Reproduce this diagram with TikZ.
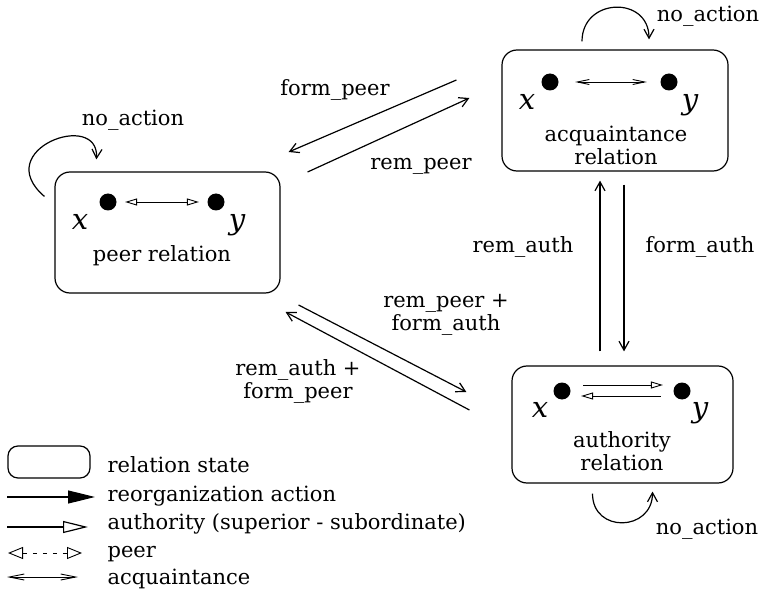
\documentclass[tikz,border=0pt]{standalone}
\usepackage{fontspec}
\setmainfont{DejaVu Serif}
\usetikzlibrary{arrows.meta, positioning}

\begin{document}
\begin{tikzpicture}[x=1pt, y=-1pt, line width=1.2pt,
    font=\fontsize{21}{23}\selectfont,
    state/.style={draw, rounded corners=15pt, minimum width=225pt, minimum height=121pt},
    agent/.style={circle, fill, inner sep=0pt, minimum size=17pt},
    var/.style={font=\fontsize{29}{30}\selectfont\itshape, inner sep=0pt},
    act/.style={-{Straight Barb[length=9pt, width=10pt]}},
    authlink/.style={line width=0.9pt, -{Triangle[open, length=12pt, width=7pt]}},
    peerlink/.style={line width=0.9pt, {Triangle[open, length=12pt, width=7pt]}-{Triangle[open, length=12pt, width=7pt]}},
    acqlink/.style={line width=0.9pt, {Straight Barb[length=12pt, width=5pt]}-{Straight Barb[length=12pt, width=5pt]}},
    legtext/.style={anchor=base west, inner sep=0pt}]
	\useasboundingbox (0,0) rectangle (764,591);

	% relation states
	\node[state] (PeerRel) at (167.5,232.5) {};
	\node[state, minimum width=226pt] (AcqRel) at (615,110.5) {};
	\node[state, minimum width=221pt, minimum height=117pt] (AuthRel) at (622.5,424.5) {};

	\node (PeerTxt) at (162,256) {peer relation};
	\node[align=center] (AcqTxt) at (616,145) {acquaintance\\relation};
	\node[align=center] (AuthTxt) at (622,451) {authority\\relation};

	% agents
	\node[agent] (PeerX) at (108,202) {};
	\node[agent] (PeerY) at (216,202) {};
	\node[var] (PeerXl) at (80,222) {x};
	\node[var] (PeerYl) at (237,225) {y};
	\draw[peerlink, shorten <=8pt, shorten >=8pt] (PeerX) -- (PeerY);

	\node[agent] (AcqX) at (550,82) {};
	\node[agent] (AcqY) at (669,82) {};
	\node[var] (AcqXl) at (527,102) {x};
	\node[var] (AcqYl) at (690,105) {y};
	\draw[acqlink, shorten <=16pt, shorten >=13pt] (AcqX) -- (AcqY);

	\node[agent] (AuthX) at (562,391) {};
	\node[agent] (AuthY) at (682,391) {};
	\node[var] (AuthXl) at (540,410) {x};
	\node[var] (AuthYl) at (700,413) {y};
	\draw[authlink, shorten <=12pt, shorten >=10pt] ([yshift=6pt]AuthX.east) -- ([yshift=6pt]AuthY.west);
	\draw[authlink, shorten <=12pt, shorten >=10pt] ([yshift=-5pt]AuthY.west) -- ([yshift=-5pt]AuthX.east);

	% reorganization actions
	\draw[act] ([shift={(-45,-30.5)}]AcqRel.west) -- ([shift={(8,-80.5)}]PeerRel.east);
	\draw[act] ([shift={(27,-60.5)}]PeerRel.east) -- ([shift={(-32,-12.5)}]AcqRel.west);
	\draw[act] ([shift={(18,72.5)}]PeerRel.east) -- ([shift={(-45,-32.5)}]AuthRel.west);
	\draw[act] ([shift={(-42,-14.5)}]AuthRel.west) -- ([shift={(5,79.5)}]PeerRel.east);
	\draw[act] ([shift={(-22.5,-14)}]AuthRel.north) -- ([shift={(-15,9)}]AcqRel.south);
	\draw[act] ([shift={(9,13)}]AcqRel.south) -- ([shift={(1.5,-14)}]AuthRel.north);

	\node (FormPeer) at (335,90) {form\_peer};
	\node (RemPeer) at (421,166) {rem\_peer};
	\node[align=center] (RemPeerFormAuth) at (446,315) {rem\_peer +\\form\_auth};
	\node[align=center] (RemAuthFormPeer) at (298,381) {rem\_auth +\\form\_peer};
	\node (RemAuth) at (523,247) {rem\_auth};
	\node (FormAuth) at (700,247) {form\_auth};

	% no_action loops
	\draw[act] ([shift={(-10,25)}]PeerRel.north west) .. controls +(-55,-47) and +(3,-50) .. ([shift={(42,-12)}]PeerRel.north west);
	\draw[act] ([shift={(-33,-8)}]AcqRel.north) .. controls +(0,-44) and +(0,-44) .. ([shift={(34,-10)}]AcqRel.north);
	\draw[act] ([shift={(-30,10)}]AuthRel.south) .. controls +(0,40) and +(0,40) .. ([shift={(30,8)}]AuthRel.south);

	\node (PeerNo) at (133,120) {no\_action};
	\node (AcqNo) at (708,16) {no\_action};
	\node (AuthNo) at (707,529) {no\_action};

	% legend
	\node[draw, rounded corners=10pt, minimum width=82pt, minimum height=32pt] (LegState) at (49,462) {};
	\node[legtext] (LegStateTxt) at (107,472) {relation state};
	\node[legtext] (LegActTxt) at (107,501) {reorganization action};
	\node[legtext] (LegAuthTxt) at (107,529) {authority (superior - subordinate)};
	\node[legtext] (LegPeerTxt) at (107,557) {peer};
	\node[legtext] (LegAcqTxt) at (107,584) {acquaintance};

	\coordinate (LegActA) at (7,497);
	\coordinate (LegActB) at (95,497);
	\coordinate (LegAuthA) at (7,527);
	\coordinate (LegAuthB) at (88,527);
	\coordinate (LegPeerA) at (8,553);
	\coordinate (LegPeerB) at (82,553);
	\coordinate (LegAcqA) at (7,577);
	\coordinate (LegAcqB) at (78,577);
	\draw[-{Triangle[length=27pt, width=13pt]}] (LegActA) -- (LegActB);
	\draw[-{Triangle[open, length=25pt, width=12pt]}] (LegAuthA) -- (LegAuthB);
	\draw[line width=0.9pt, {Triangle[open, length=15pt, width=12pt]}-{Triangle[open, length=15pt, width=12pt]}, dash pattern=on 4pt off 6pt] (LegPeerA) -- (LegPeerB);
	\draw[line width=0.9pt, {Straight Barb[length=15pt, width=6pt]}-{Straight Barb[length=15pt, width=6pt]}] (LegAcqA) -- (LegAcqB);
\end{tikzpicture}
\end{document}
